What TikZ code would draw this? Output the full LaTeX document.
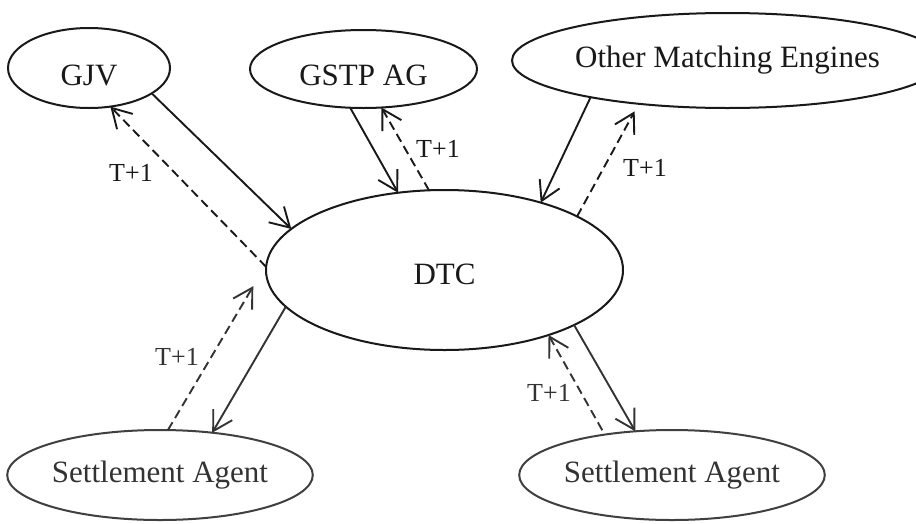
\documentclass[tikz,border=0pt]{standalone}
\usepackage{fontspec}
\setmainfont{Liberation Serif}
\usetikzlibrary{shapes.geometric,arrows.meta}
\begin{document}
\begin{tikzpicture}[x=1pt,y=-1pt,
  ell/.style={ellipse,draw=black!90,line width=2pt,inner sep=0pt,outer sep=0pt,
    font=\fontsize{31}{36}\selectfont,text=black!90},
  lowell/.style={ell,draw=black!75,text=black!80},
  lab/.style={font=\fontsize{26}{30}\selectfont,text=black!90,inner sep=0pt},
  solidarr/.style={draw=black!90,line width=1.9pt,-{Straight Barb[length=19pt,width=22pt]}},
  dasharr/.style={solidarr,dash pattern=on 9pt off 5pt}]
\useasboundingbox (0,0) rectangle (916,523);
\fill[white] (0,0) rectangle (916,523);
% nodes
\node[ell,minimum width=162pt,minimum height=80pt] (GJV) at (89,68) {\raisebox{-17pt}[0pt][0pt]{GJV}};
\node[ell,minimum width=227pt,minimum height=78pt] (GSTP) at (363.5,69) {\raisebox{-16pt}[0pt][0pt]{GSTP AG}};
\node[ell,minimum width=374pt,minimum height=95pt] (OME) at (727.5,60.5) {Other Matching Engines};
\node[ell,minimum width=357pt,minimum height=160pt] (DTC) at (444.5,270) {\raisebox{-14pt}[0pt][0pt]{DTC}};
\node[lowell,minimum width=274pt,minimum height=90pt] (SA1) at (160,475) {Settlement Agent};
\node[lowell,minimum width=272pt,minimum height=90pt] (SA2) at (672,475) {Settlement Agent};
% labels
\node[lab] (L1) at (131,173) {T+1};
\node[lab] (L2) at (438,149) {T+1};
\node[lab] (L3) at (645,168) {T+1};
\node[lab,text=black!80] (L4) at (177,357) {T+1};
\node[lab,text=black!80] (L5) at (549,393) {T+1};
% GJV
\draw[solidarr] (GJV.-22.9) -- (DTC.165);
\draw[dasharr] (DTC.179.4) -- (GJV.-61.7);
% GSTP
\draw[solidarr] (GSTP.-109.1) -- (DTC.121.7);
\draw[dasharr] (DTC.101.7) -- (GSTP.-65.7);
% OME
\draw[solidarr] (OME.195.9) -- (DTC.35.05);
\draw[dasharr,shorten >=8.6pt] (DTC.22.85) -- (OME.206);
% SA1
\draw[dasharr,draw=black!80,shorten >=26pt] (SA1.80.3) -- (DTC.178.3);
\draw[solidarr,draw=black!80] (DTC.193.6) -- (SA1.39.3);
% SA2
\draw[dasharr,draw=black!80,shorten <=5pt] (SA2.149.4) -- (DTC.-32.1);
\draw[solidarr,draw=black!80] (DTC.-23.3) -- (SA2.130.9);
\end{tikzpicture}
\end{document}
